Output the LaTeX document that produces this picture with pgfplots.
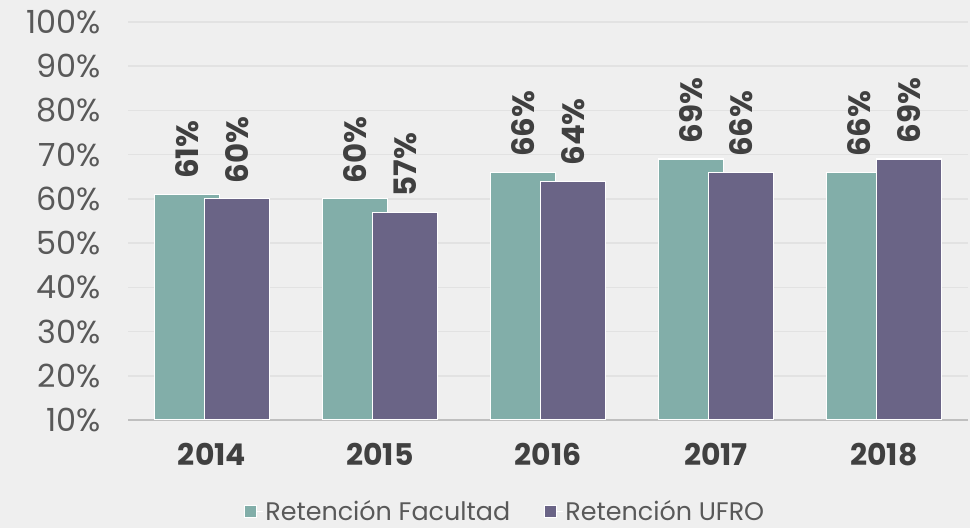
\documentclass[border=0pt]{standalone}
\usepackage{pgfplots}
\pgfplotsset{compat=1.18}
\usepackage{fontspec}
\setmainfont{Poppins}
\definecolor{teal1}{HTML}{82AEA9}
\definecolor{purp1}{HTML}{6A6486}
\definecolor{bgc}{HTML}{EFEFEF}
\definecolor{gridc}{HTML}{E2E2E2}
\definecolor{txt}{HTML}{595959}
\definecolor{txtd}{HTML}{404040}
\begin{document}
\begin{tikzpicture}
\fill[bgc] (0,0) rectangle (970bp,528bp);
\begin{axis}[
  at={(128bp,108bp)}, anchor=south west,
  width=840bp, height=398bp, scale only axis,
  xmin=-0.5, xmax=4.5, ymin=10, ymax=100,
  ytick={10,20,...,100},
  xtick={0,1,2,3,4},
  xticklabels={2014,2015,2016,2017,2018},
  yticklabel={\pgfmathprintnumber{\tick}\%},
  /pgf/number format/assume math mode=true,
  major tick length=0pt,
  ymajorgrids, grid style={gridc, line width=1.5bp},
  axis x line*=bottom, axis y line*=left,
  x axis line style={-, draw=black!25, line width=2.5bp},
  y axis line style={draw=none},
  yticklabel style={font=\fontsize{32}{36}\selectfont, text=txt, xshift=-24bp},
  xticklabel style={font=\bfseries\fontsize{30}{34}\selectfont, text=txtd, yshift=-20bp},
  ybar, bar width=0.387,
  nodes near coords={\pgfmathprintnumber{\pgfplotspointmeta}\%},
  nodes near coords style={rotate=90, anchor=west, inner xsep=15bp, font=\bfseries\fontsize{31}{35}\selectfont, text=txtd},
  legend style={at={(0.449,-0.229)}, anchor=center, draw=none, fill=none,
    legend columns=2, font=\fontsize{25.5}{29}\selectfont, text=txt,
    /tikz/every even column/.append style={column sep=32bp}},
  legend image code/.code={\path (0bp,0bp) -- (18bp,0bp); \fill[#1] (0bp,-6bp) rectangle (12bp,6bp);},
]
\addplot[fill=teal1, draw=white, line width=1.2bp, bar shift=-0.149] coordinates {(0,61) (1,60) (2,66) (3,69) (4,66)};
\addplot[fill=purp1, draw=white, line width=1.2bp, bar shift=0.149] coordinates {(0,60) (1,57) (2,64) (3,66) (4,69)};
\legend{Retención Facultad, Retención UFRO}
\end{axis}
\pgfresetboundingbox
\path[use as bounding box] (0,0) rectangle (970bp,528bp);
\end{tikzpicture}
\end{document}
